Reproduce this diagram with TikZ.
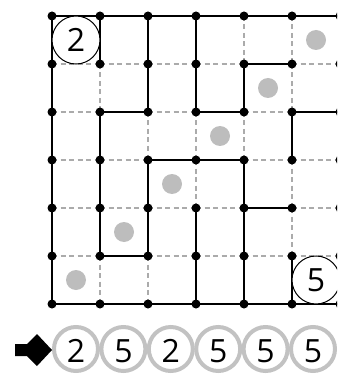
\documentclass[tikz,border=0pt]{standalone}
\usepackage{fontspec}
\setmainfont{Open Sans}
\definecolor{guidegray}{HTML}{ABABAB}
\definecolor{shadegray}{HTML}{BDBDBD}
\definecolor{ringgray}{HTML}{C2C2C2}
\begin{document}
\begin{tikzpicture}[x=1pt,y=-1pt,
  wall/.style={line width=2.8pt},
  guide/.style={draw=guidegray, line width=1.5pt, dash pattern=on 5pt off 3.5pt},
  vdot/.style={circle, fill=black, inner sep=0pt, minimum size=9pt},
  shade/.style={circle, fill=shadegray, inner sep=0pt, minimum size=20pt},
  clue/.style={circle, draw=black, line width=1pt, fill=white, inner sep=0pt, minimum size=48pt, font=\fontsize{32}{32}\selectfont},
  ring/.style={circle, draw=ringgray, line width=4pt, inner sep=0pt, minimum size=44pt},
  ringtext/.style={inner sep=0pt, font=\fontsize{32}{32}\selectfont},
  pointer/.style={fill=black}]
\useasboundingbox (0,0) rectangle (337,374);
\clip (0,0) rectangle (337,374);
% grid vertices
\foreach \i in {0,...,6}
  \foreach \j in {0,...,6}
    \coordinate (v\i\j) at ({52+48*\i},{16+48*\j});
% dashed guide lines
\foreach \i in {0,...,5}{
  \foreach \j in {1,...,5}{
    \pgfmathtruncatemacro\ni{\i+1}
    \draw[guide] (v\i\j) -- (v\ni\j);
  }
}
\foreach \i in {1,...,5}{
  \foreach \j in {0,...,5}{
    \pgfmathtruncatemacro\nj{\j+1}
    \draw[guide] (v\i\j) -- (v\i\nj);
  }
}
% shaded cells
\foreach \c/\r in {5/0,4/1,3/2,2/3,1/4,0/5}
  \node[shade] (s\c\r) at ({76+48*\c},{40+48*\r}) {};
% walls
\draw[wall] (v00) -- (v60) -- (v66) -- (v06) -- cycle;
\foreach \a/\b in {41/51, 12/22, 32/42, 52/62, 23/43, 44/54, 15/25,
                   10/11, 12/15, 20/22, 23/25, 30/32, 34/36, 41/42, 43/46, 52/53, 55/56}
  \draw[wall] (v\a) -- (v\b);
% vertex dots
\foreach \i in {0,...,6}
  \foreach \j in {0,...,6}
    \node[vdot] (d\i\j) at (v\i\j) {};
% clue circles
\node[clue] (c1) at (76,40) {2};
\node[clue] (c2) at (316,280) {5};
% answer row
\foreach \k/\t in {0/2,1/5,2/2,3/5,4/5,5/5}{
  \node[ring] (r\k) at ({76+47.4*\k},349) {};
  \node[ringtext] (t\k) at ({76+47.4*\k},351) {\t};
}
\fill[pointer] (15,344) -- (27,344) -- (37,334) -- (52,350) -- (37,366) -- (27,356) -- (15,356) -- cycle;
\end{tikzpicture}
\end{document}
